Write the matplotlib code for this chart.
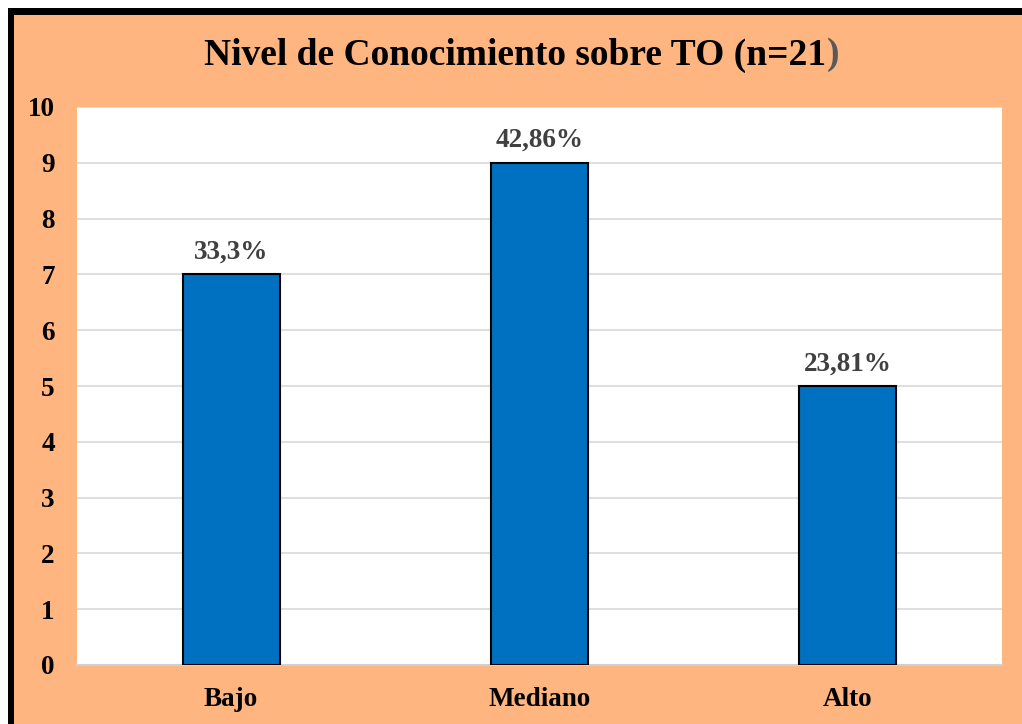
import matplotlib
matplotlib.use("Agg")
import matplotlib.pyplot as plt
from matplotlib.patches import Rectangle

categories = ["Bajo", "Mediano", "Alto"]
values = [7, 9, 5]
labels = ["33,3%", "42,86%", "23,81%"]
yticks = list(range(0, 11))

plt.rcParams['font.family'] = ['Liberation Serif', 'DejaVu Serif']

W, H = 1022, 724
fig = plt.figure(figsize=(W / 100, H / 100), dpi=100)
fig.patch.set_facecolor("white")

# orange background and black border (top and left)
fig.patches.append(Rectangle((14 / W, 0), 1, 1 - 14 / H, transform=fig.transFigure,
                             facecolor="#FFB580", edgecolor="none", zorder=-10))
fig.patches.append(Rectangle((8 / W, 1 - 15 / H), 1, 7 / H, transform=fig.transFigure,
                             facecolor="black", edgecolor="none", zorder=-9))
fig.patches.append(Rectangle((8 / W, 0), 6 / W, 1 - 8 / H, transform=fig.transFigure,
                             facecolor="black", edgecolor="none", zorder=-9))

ax = fig.add_axes([77 / W, 1 - 665 / H, (1002 - 77) / W, (665 - 107) / H])
ax.set_facecolor("white")
x = range(len(categories))
bars = ax.bar(x, values, width=0.315, color="#0070C0", edgecolor="black",
              linewidth=1.5, zorder=3)
ax.set_xlim(-0.5, len(categories) - 0.5)
ax.set_ylim(0, 10)
ax.set_yticks(yticks)
ax.set_yticklabels([str(t) for t in yticks])
ax.set_xticks(list(x))
ax.set_xticklabels(categories)
ax.yaxis.grid(True, color="#D9D9D9", linewidth=1.2, zorder=0)
ax.set_axisbelow(True)
for s in ["top", "right", "left"]:
    ax.spines[s].set_visible(False)
ax.spines["bottom"].set_color("#D0D0D0")
ax.spines["bottom"].set_linewidth(1.5)
ax.tick_params(axis="both", length=0, labelsize=19.5)
ax.tick_params(axis="y", pad=16)
ax.tick_params(axis="x", pad=16)
for lab in ax.get_xticklabels() + ax.get_yticklabels():
    lab.set_fontweight("bold")
    lab.set_color("black")

for b, lab in zip(bars, labels):
    ax.annotate(lab, (b.get_x() + b.get_width() / 2, b.get_height()),
                xytext=(0, 7), textcoords="offset points", ha="center", va="bottom",
                fontsize=19.5, fontweight="bold", color="#404040")

# title, with the closing parenthesis in grey
ty = 1 - 55 / H
cx = 521.5
t = fig.text(0.5, ty, "Nivel de Conocimiento sobre TO (n=21",
             ha="center", va="center", fontsize=27, fontweight="bold", color="black")
fig.canvas.draw()
r = fig.canvas.get_renderer()
bb = t.get_window_extent(r)
tp = fig.text(0, ty, ")", ha="left", va="center", fontsize=27,
              fontweight="bold", color="#595959")
bb2 = tp.get_window_extent(r)
total = bb.width + bb2.width
x0 = cx - total / 2
t.set_x((x0 + bb.width / 2) / W)
tp.set_x((x0 + bb.width) / W)

fig.savefig("out.png", dpi=100, facecolor=fig.get_facecolor())
